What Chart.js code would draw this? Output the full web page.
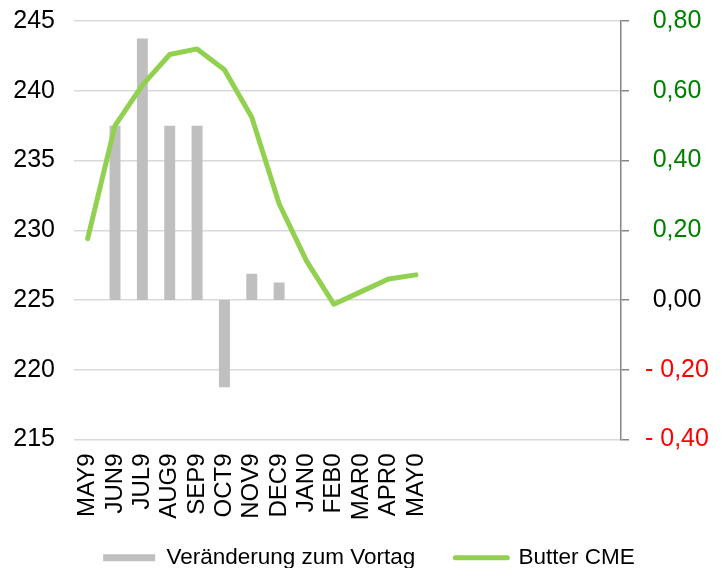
<!DOCTYPE html>
<html>
<head>
<meta charset="utf-8">
<script src="https://cdn.jsdelivr.net/npm/chart.js@4/dist/chart.umd.min.js"></script>
<style>
  html, body { margin: 0; padding: 0; background: #fff; }
  #wrap { width: 728px; height: 568px; }
</style>
</head>
<body>
<div id="wrap"><canvas id="butterChart"></canvas></div>
<script>
// contract months shown on the axis, the axis has room for 20 slots
const months = ['MAY9', 'JUN9', 'JUL9', 'AUG9', 'SEP9', 'OCT9', 'NOV9', 'DEC9', 'JAN0', 'FEB0', 'MAR0', 'APR0', 'MAY0'];
const emptySlots = ['', '', '', '', '', '', ''];

// change vs. previous day (right axis)
const changeValues = [null, 0.50, 0.75, 0.50, 0.50, -0.25, 0.075, 0.05, null, null, null, null, null];
// Butter CME price (left axis)
const butterValues = [229.4, 237.5, 240.4, 242.6, 243.0, 241.5, 238.1, 231.9, 227.8, 224.7, 225.6, 226.5, 226.8];

const leftTicks = { min: 215, max: 245, step: 5 };
const rightTicks = { min: -0.4, max: 0.8, step: 0.2 };

Chart.defaults.font.family = '"Liberation Sans", Arial, sans-serif';
Chart.defaults.color = '#000';

const fmtRight = v => {
    if (Math.abs(v) < 1e-9) return '0,00';
    const s = Math.abs(v).toFixed(2).replace('.', ',');
    return v < 0 ? '- ' + s : s;
};

// y axes should not push the plot area down/up for their outer labels
const noVPad = s => { s.paddingTop = 0; s.paddingBottom = 0; };

// the month labels run down into the legend band, so don't clip them at the axis box
const xLabelRoom = {
    id: 'xLabelRoom',
    afterLayout: c => { c.scales.x.bottom = c.height; }
};

const ctx = document.getElementById('butterChart').getContext('2d');
const chart = new Chart(ctx, {
    data: {
        labels: months.concat(emptySlots),
        datasets: [{
            type: 'bar',
            label: 'Veränderung zum Vortag',
            data: changeValues,
            backgroundColor: '#bfbfbf',
            borderWidth: 0,
            barPercentage: 0.4,
            categoryPercentage: 1,
            yAxisID: 'y2',
            order: 1
        }, {
            type: 'line',
            label: 'Butter CME',
            data: butterValues,
            borderColor: '#92d050',
            backgroundColor: '#92d050',
            borderWidth: 5,
            borderJoinStyle: 'round',
            borderCapStyle: 'round',
            pointRadius: 0,
            tension: 0,
            yAxisID: 'y',
            order: 0
        }]
    },
    plugins: [xLabelRoom],
    options: {
        responsive: true,
        maintainAspectRatio: false,
        animation: false,
        layout: { padding: { top: 21, bottom: -11, left: 10 } },
        plugins: {
            tooltip: { enabled: false },
            legend: {
                position: 'bottom',
                labels: {
                    font: { size: 22.5 },
                    color: '#000',
                    usePointStyle: true,
                    pointStyleWidth: 52,
                    boxWidth: 52,
                    boxHeight: 7,
                    padding: 40,
                    generateLabels: c => {
                        const items = Chart.defaults.plugins.legend.labels.generateLabels(c);
                        items.sort((a, b) => a.datasetIndex - b.datasetIndex);
                        items.forEach(it => {
                            if (it.datasetIndex === 0) {
                                it.pointStyle = 'rect';
                                it.lineWidth = 0;
                            } else {
                                it.pointStyle = 'line';
                                it.lineWidth = 5;
                                it.lineCap = 'round';
                            }
                        });
                        return items;
                    }
                }
            }
        },
        scales: {
            x: {
                grid: { display: false, drawTicks: false },
                border: { display: false },
                ticks: {
                    autoSkip: false,
                    minRotation: 90,
                    maxRotation: 90,
                    padding: 14,
                    font: { size: 24 }
                },
                afterFit: s => { s.height = 67; s.paddingLeft = 0; s.paddingRight = 0; }
            },
            y: {
                position: 'left',
                min: leftTicks.min,
                max: leftTicks.max,
                ticks: { stepSize: leftTicks.step, padding: 19, font: { size: 25 } },
                grid: { color: '#d9d9d9', lineWidth: 1.5, drawTicks: false },
                border: { display: false },
                afterFit: s => { s.width = 64; noVPad(s); }
            },
            y2: {
                position: 'right',
                min: rightTicks.min,
                max: rightTicks.max,
                ticks: {
                    stepSize: rightTicks.step,
                    padding: 16,
                    crossAlign: 'center',
                    font: { size: 25 },
                    callback: v => fmtRight(v),
                    color: c => Math.abs(c.tick.value) < 1e-9 ? '#000' : (c.tick.value < 0 ? '#ff0000' : '#008000')
                },
                grid: { drawOnChartArea: false, tickLength: 8, color: '#868686', lineWidth: 1.5 },
                border: { color: '#868686', width: 1.5 },
                afterFit: s => { s.width = 107; noVPad(s); }
            }
        }
    }
});
</script>
</body>
</html>
